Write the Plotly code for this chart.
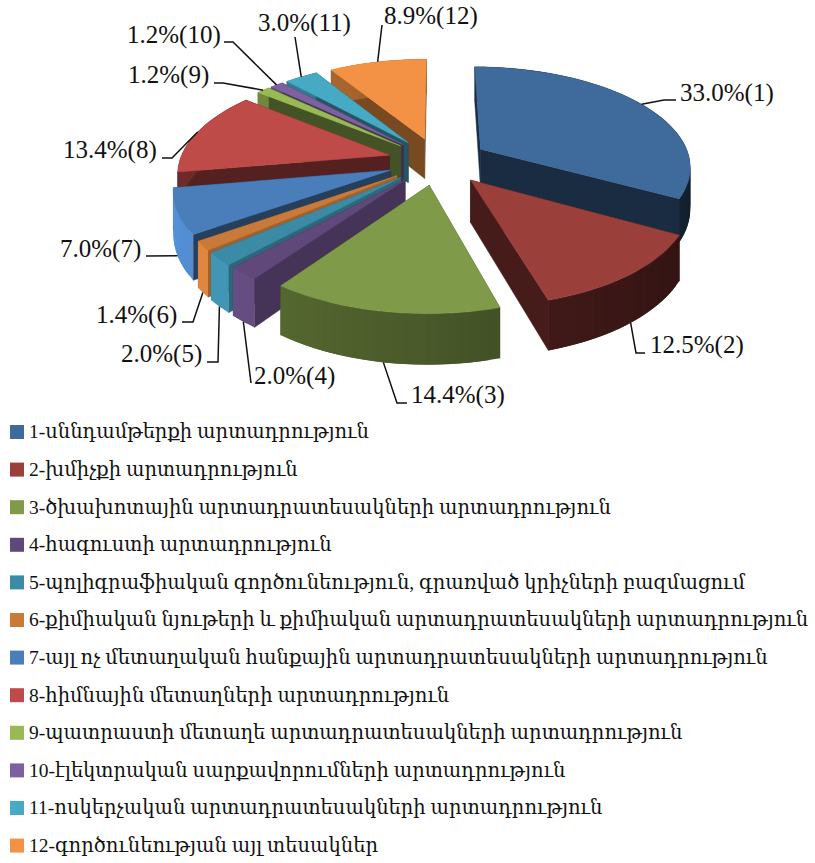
import math
import plotly.graph_objects as go

values = [33.0, 12.5, 14.4, 2.0, 2.0, 1.4, 7.0, 13.4, 1.2, 1.2, 3.0, 8.9]
percent_labels = ["33.0%(1)", "12.5%(2)", "14.4%(3)", "2.0%(4)", "2.0%(5)", "1.4%(6)",
                  "7.0%(7)", "13.4%(8)", "1.2%(9)", "1.2%(10)", "3.0%(11)", "8.9%(12)"]
categories = [
    "1-սննդամթերքի արտադրություն",
    "2-խմիչքի արտադրություն",
    "3-ծխախոտային արտադրատեսակների արտադրություն",
    "4-հագուստի արտադրություն",
    "5-պոլիգրաֆիական գործունեություն, գրառված կրիչների բազմացում",
    "6-քիմիական նյութերի և քիմիական արտադրատեսակների արտադրություն",
    "7-այլ ոչ մետաղական հանքային արտադրատեսակների արտադրություն",
    "8-հիմնային մետաղների արտադրություն",
    "9-պատրաստի մետաղե արտադրատեսակների արտադրություն",
    "10-էլեկտրական սարքավորումների արտադրություն",
    "11-ոսկերչական արտադրատեսակների արտադրություն",
    "12-գործունեության այլ տեսակներ",
]
colors = ["#3f6a9c", "#9b3f3b", "#7f9a48", "#60497a", "#3b8aa6", "#c97a38",
          "#4a7ebb", "#be4b48", "#98b954", "#7d60a0", "#46aac5", "#f39244"]

# style of the side faces
radial_shade = [.42, .45, .5, .72, .75, .8, .5, .45, .45, .5, .5, .5]
wall_shade = [.42, .45, .58, .9, .9, .9, .9, .45, .6, .6, .6, .6]

# projection of the pie: centre, radii, perspective, height, explosion
CX, CY, RX, RY, K, H, PULL = 438, 161, 210, 99, .16, 41, .24


def project(u, v, drop=0):
    s = 1 / (1 + K * v)
    return CX + RX * u * s, CY - RY * v * s + drop * H * s


def hex_shade(c, f):
    r, g, b = (int(c[i:i + 2], 16) for i in (1, 3, 5))
    return "#%02x%02x%02x" % tuple(min(255, int(x * f)) for x in (r, g, b))


def poly(points, color, lw=.5):
    xs = [p[0] for p in points] + [points[0][0]]
    ys = [p[1] for p in points] + [points[0][1]]
    return go.Scatter(x=xs, y=ys, mode="lines", fill="toself", fillcolor=color,
                      line=dict(color=color, width=lw), hoverinfo="skip", showlegend=False)


slices = []
start = 0.0
for i, val in enumerate(values):
    a0 = start / sum(values) * 2 * math.pi
    a1 = (start + val) / sum(values) * 2 * math.pi
    am = (a0 + a1) / 2
    slices.append(dict(i=i, a0=a0, a1=a1, am=am, au=PULL * math.sin(am), av=PULL * math.cos(am)))
    start += val

traces = []
for sl in sorted(slices, key=lambda d: -(d["av"] + math.cos(d["am"]))):
    i = sl["i"]
    au, av = sl["au"], sl["av"]
    n = max(2, int((sl["a1"] - sl["a0"]) / .04))
    angs = [sl["a0"] + (sl["a1"] - sl["a0"]) * k / n for k in range(n + 1)]
    rim = [(au + math.sin(a), av + math.cos(a)) for a in angs]

    def radial(pt):
        return [project(au, av), project(*pt), project(*pt, 1), project(au, av, 1)]

    faces = [(av + rim[0][1], poly(radial(rim[0]), hex_shade(colors[i], radial_shade[i]))),
             (av + rim[-1][1], poly(radial(rim[-1]), hex_shade(colors[i], radial_shade[i])))]
    for k in range(n):
        mid = (angs[k] + angs[k + 1]) / 2
        f = wall_shade[i] * (1 - .3 * math.sin(mid))
        quad = [project(*rim[k]), project(*rim[min(k + 2, n)]),
                project(*rim[min(k + 2, n)], 1), project(*rim[k], 1)]
        faces.append((rim[k][1] - 1, poly(quad, hex_shade(colors[i], f), lw=0)))
    for _, tr in sorted(faces, key=lambda t: -t[0]):
        traces.append(tr)
    traces.append(poly([project(au, av)] + [project(*p) for p in rim], colors[i]))

fig = go.Figure(traces)

# labels: left edge and centre height of each percent label, then leader elbow/end
label_x = [680, 650, 411, 254, 121, 96, 60, 63, 128, 127, 258, 384]
label_y = [94.5, 346.5, 396.5, 377.5, 355.5, 316.5, 250.5, 151.5, 76.5, 36.5, 24.5, 17.5]
leaders = [[(664, 100), (676, 100)], [(636, 353), (645, 353)], [(397, 403), (407, 403)],
           [(251, 383)], [(218, 362), (207, 362)], [(193, 322), (182, 322)],
           [(158, 256), (146, 256)], [(172, 158), (162, 158)], [(223, 83), (214, 83)],
           [(233, 42), (224, 42)], [(295, 37)], [(382, 25)]]

for sl, pts in zip(slices, leaders):
    am = sl["am"]
    u, v = sl["au"] + math.sin(am), sl["av"] + math.cos(am)
    x0, y0 = project(u, v, 1 if math.cos(am) < -.1 else 0)
    fig.add_trace(go.Scatter(x=[x0] + [p[0] for p in pts], y=[y0] + [p[1] for p in pts],
                             mode="lines", line=dict(color="#111111", width=1.5),
                             hoverinfo="skip", showlegend=False))

SERIF = "Liberation Serif, DejaVu Serif, serif"
fig.add_trace(go.Scatter(x=label_x, y=label_y, text=percent_labels, mode="text",
                         textposition="middle right",
                         textfont=dict(family=SERIF, size=25, color="#111111"),
                         hoverinfo="skip", showlegend=False))

# legend
legend_top, legend_step = 432, 37.6
legend_y = [legend_top + legend_step * k for k in range(len(categories))]
fig.add_trace(go.Scatter(x=[17] * len(categories), y=legend_y, mode="markers",
                         marker=dict(symbol="square", size=14, color=colors, line=dict(width=0)),
                         hoverinfo="skip", showlegend=False))
fig.add_trace(go.Scatter(x=[29] * len(categories), y=[y + 1.5 for y in legend_y], text=categories,
                         mode="text", textposition="middle right",
                         textfont=dict(family=SERIF, size=19.5, color="#111111"),
                         hoverinfo="skip", showlegend=False))

fig.update_layout(width=815, height=863, autosize=False, margin=dict(l=0, r=0, t=0, b=0),
                  paper_bgcolor="white", plot_bgcolor="white", showlegend=False,
                  xaxis=dict(range=[0, 815], visible=False, fixedrange=True),
                  yaxis=dict(range=[863, 0], visible=False, fixedrange=True))
fig.write_html("out.html", post_script="document.body.style.margin='0';",
               config={"displayModeBar": False})
